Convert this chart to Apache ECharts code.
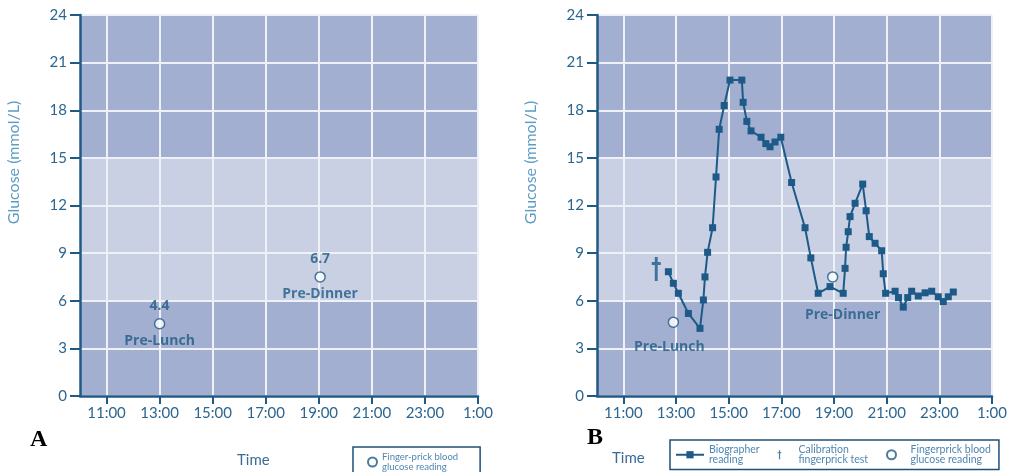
<!DOCTYPE html>
<html>
<head>
<meta charset="utf-8">
<script src="https://cdn.jsdelivr.net/npm/echarts@6/dist/echarts.min.js"></script>
<style>html,body{margin:0;padding:0;background:#fff}#c{width:1010px;height:472px}</style>
</head>
<body>
<div id="c"></div>
<script>
// ---- data ----
const hourTicks = [11, 13, 15, 17, 19, 21, 23, 25];
const glucoseTicks = [0, 3, 6, 9, 12, 15, 18, 21, 24];
// Panel A: finger-prick readings [hour, mmol/L]
const fingerA = [[13.0, 4.55], [19.05, 7.5]];
const fingerAValueLabels = ['4.4', '6.7'];
const fingerANames = ['Pre-Lunch', 'Pre-Dinner'];
// Panel B
const fingerB = [[12.9, 4.65], [18.95, 7.5]];
const fingerBNames = ['Pre-Lunch', 'Pre-Dinner'];
const calibration = [[12.25, 8.0]];
const biographer = [
  [12.71, 7.83], [12.90, 7.1], [13.09, 6.47], [13.47, 5.2], [13.91, 4.26],
  [14.04, 6.05], [14.10, 7.5], [14.20, 9.05], [14.39, 10.6], [14.52, 13.8],
  [14.64, 16.8], [14.83, 18.3], [15.05, 19.9], [15.50, 19.9], [15.55, 18.5],
  [15.69, 17.3], [15.85, 16.7], [16.23, 16.3], [16.41, 15.9], [16.57, 15.7],
  [16.76, 16.0], [16.98, 16.3], [17.39, 13.45], [17.90, 10.6], [18.12, 8.7],
  [18.40, 6.47], [18.85, 6.89], [19.35, 6.47], [19.42, 8.04], [19.46, 9.37],
  [19.54, 10.35], [19.61, 11.3], [19.80, 12.14], [20.09, 13.35], [20.22, 11.67],
  [20.34, 10.04], [20.56, 9.62], [20.81, 9.15], [20.87, 7.7], [20.96, 6.47],
  [21.32, 6.6], [21.45, 6.2], [21.63, 5.6], [21.80, 6.2], [21.95, 6.6],
  [22.20, 6.3], [22.46, 6.5], [22.71, 6.6], [22.96, 6.25], [23.15, 5.95],
  [23.34, 6.25], [23.53, 6.55]
];

// ---- styles ----
const AX = '#1f5a85';
const LBL = '#2c6690';
const DARK = '#a2afd0';
const LIGHT = '#c9d0e4';
const GRIDW = '#eef1f8';
const FONT = 'Lato, "DejaVu Sans", sans-serif';
const BFONT = '"Open Sans", Lato, sans-serif';

function xAxis(gi) {
  return {
    gridIndex: gi, type: 'value', min: 10, max: 25, interval: 1,
    axisLine: {show: true, onZero: false, lineStyle: {color: AX, width: 2.5}},
    axisTick: {show: true, customValues: hourTicks, length: 8, lineStyle: {color: AX, width: 2}},
    axisLabel: {customValues: hourTicks, formatter: v => (v % 24) + ':00', color: LBL, fontSize: 15, fontFamily: FONT, margin: 10},
    splitLine: {show: true, lineStyle: {color: GRIDW, width: 2}}
  };
}
function yAxis(gi) {
  return {
    gridIndex: gi, type: 'value', min: 0, max: 24, interval: 3,
    name: 'Glucose (mmol/L)', nameLocation: 'middle', nameGap: 58, nameRotate: 90,
    nameTextStyle: {color: '#5d9cc5', fontSize: 16, fontFamily: FONT, padding: [0, 0, 0, 86]},
    axisLine: {show: true, lineStyle: {color: AX, width: 2.5}},
    axisTick: {show: true, length: 10, lineStyle: {color: AX, width: 2}},
    axisLabel: {color: LBL, fontSize: 15, fontFamily: FONT, margin: 13,
      customValues: glucoseTicks},
    splitLine: {show: true, lineStyle: {color: GRIDW, width: 2}},
    splitArea: {show: true, areaStyle: {color: [DARK, DARK, LIGHT, LIGHT, LIGHT, DARK, DARK, DARK]}}
  };
}

const circleStyle = {color: '#ffffff', borderColor: '#1f5a85', borderWidth: 1.5};
const boldLbl = {color: '#1f5a85', fontSize: 14, fontWeight: 'bold', fontFamily: BFONT};
const daggerPath = 'path://M3.4,0 L6.6,0 L6.6,5 L10,5 L10,8 L6.6,8 L6.6,24 L3.4,24 L3.4,8 L0,8 L0,5 L3.4,5 Z';

const option = {
  animation: false,
  grid: [
    {left: 80, top: 15, width: 398, height: 381},
    {left: 597, top: 15, width: 395, height: 381}
  ],
  xAxis: [xAxis(0), xAxis(1)],
  yAxis: [yAxis(0), yAxis(1)],
  legend: [
    {
      left: 353, top: 447, orient: 'horizontal',
      data: [{name: 'Finger-prick blood\nglucose reading', icon: 'circle'}],
      itemWidth: 9, itemHeight: 9, itemGap: 10,
      padding: [5, 22, 8, 14], borderColor: '#1f4f7a', borderWidth: 1.5,
      textStyle: {color: '#4f86b0', fontSize: 9.5, lineHeight: 10, fontFamily: FONT}
    },
    {
      left: 670, top: 440, orient: 'horizontal',
      data: ['Biographer\nreading', 'Calibration\nfingerprick test', {name: 'Fingerprick blood\nglucose reading', icon: 'circle'}],
      itemWidth: 28, itemHeight: 9, itemGap: 18,
      padding: [4, 8, 4, 5], borderColor: '#1f4f7a', borderWidth: 1.5,
      textStyle: {color: '#4f86b0', fontSize: 10.5, lineHeight: 10.5, fontFamily: FONT}
    }
  ],
  series: [
    {
      name: 'Finger-prick blood\nglucose reading', type: 'scatter', xAxisIndex: 0, yAxisIndex: 0,
      symbol: 'circle', symbolSize: 10, itemStyle: circleStyle,
      data: fingerA,
      label: {
        show: true, position: 'inside',
        formatter: p => '{a|' + fingerAValueLabels[p.dataIndex] + '}\n{g|}\n{b|' + fingerANames[p.dataIndex] + '}',
        rich: {
          a: {...boldLbl, lineHeight: 15},
          g: {lineHeight: 20},
          b: {...boldLbl, lineHeight: 16}
        }
      }
    },
    {
      name: 'Biographer\nreading', type: 'line', xAxisIndex: 1, yAxisIndex: 1,
      data: biographer, symbol: 'rect', symbolSize: 7, showAllSymbol: true,
      itemStyle: {color: '#1d5a87'}, lineStyle: {color: '#1d5a87', width: 2}
    },
    {
      name: 'Calibration\nfingerprick test', type: 'scatter', xAxisIndex: 1, yAxisIndex: 1,
      data: calibration, symbol: daggerPath, symbolSize: [9, 24],
      itemStyle: {color: '#1d5a87'}
    },
    {
      name: 'Fingerprick blood\nglucose reading', type: 'scatter', xAxisIndex: 1, yAxisIndex: 1,
      symbol: 'circle', symbolSize: 10, itemStyle: circleStyle, z: 5,
      data: [
        {value: fingerB[0], label: {offset: [-4, 25]}},
        {value: fingerB[1], label: {offset: [10, 38]}}
      ],
      label: {show: true, position: 'inside', formatter: p => fingerBNames[p.dataIndex], ...boldLbl}
    }
  ],
  graphic: [
    {type: 'text', left: 30, top: 428, style: {text: 'A', font: 'bold 24px "Liberation Serif", serif', fill: '#000'}},
    {type: 'text', left: 587, top: 426, style: {text: 'B', font: 'bold 24px "Liberation Serif", serif', fill: '#000'}},
    {type: 'text', left: 237, top: 453, style: {text: 'Time', font: '15px ' + FONT, fill: '#3a6c94'}},
    {type: 'text', left: 612, top: 451, style: {text: 'Time', font: '15px ' + FONT, fill: '#3a6c94'}}
  ]
};
echarts.init(document.getElementById('c')).setOption(option);
</script>
</body>
</html>
